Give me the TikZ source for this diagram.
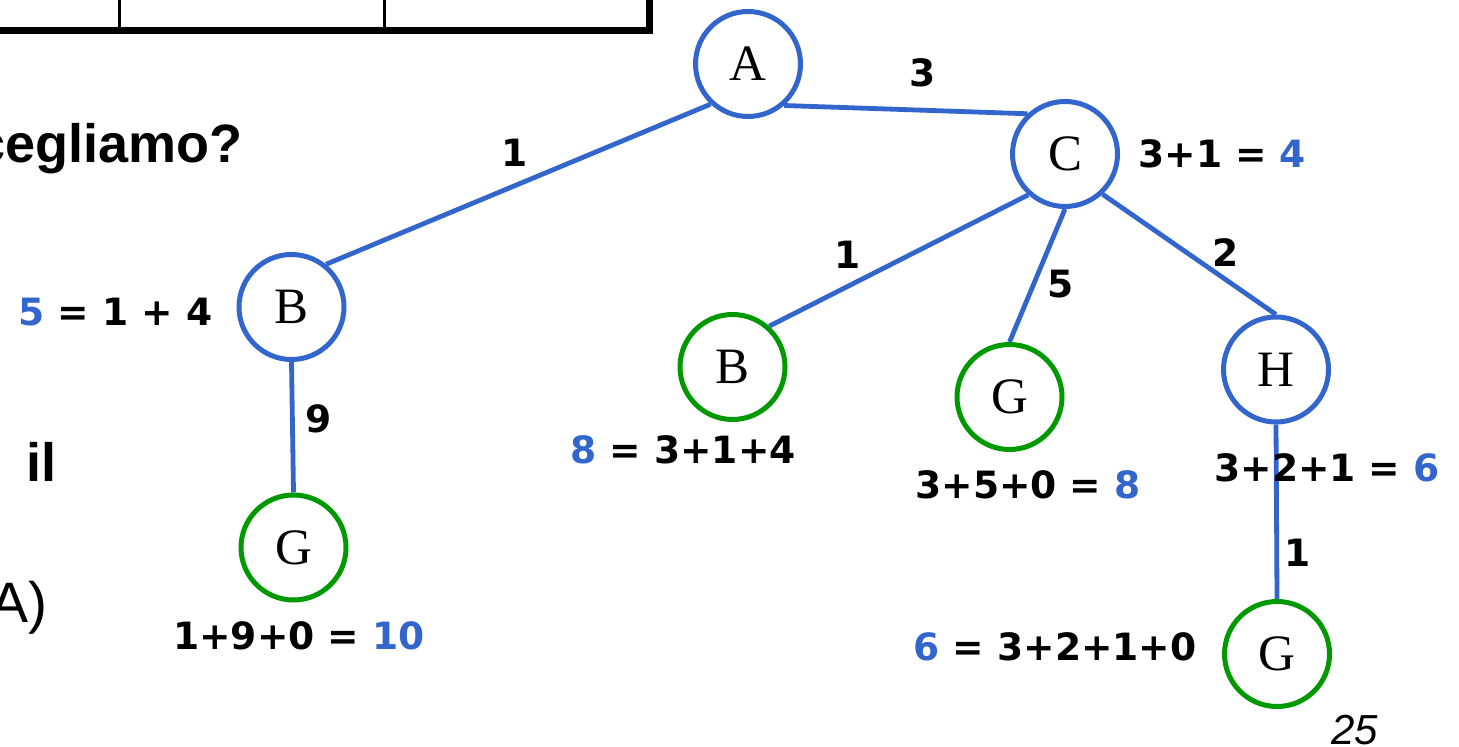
\documentclass[tikz,border=0pt]{standalone}
\usepackage{fontspec}
\setmainfont{Liberation Serif}
\setsansfont{Liberation Sans}
\newfontfamily\costfont{DejaVu Sans}
\usetikzlibrary{positioning}

\definecolor{treeblue}{RGB}{51,102,204}
\definecolor{goalgreen}{RGB}{0,153,0}

\begin{document}
\begin{tikzpicture}[
			x=0.5pt, y=-0.5pt,
			open node/.style={circle, draw=treeblue, line width=2.5pt, minimum size=52.5pt, inner sep=0pt, font=\fontsize{25.5}{25.5}\selectfont},
			goal node/.style={open node, draw=goalgreen},
			tree edge/.style={draw=treeblue, line width=2.4pt},
			edge cost/.style={font=\costfont\bfseries\fontsize{18.8}{20}\selectfont, inner sep=0pt},
			path cost/.style={edge cost},
			slide text/.style={font=\sffamily\bfseries\fontsize{27}{27}\selectfont, inner sep=0pt, anchor=base west}
			]
			
			\useasboundingbox (0,0) rectangle (1459,747);
			\clip (0,0) rectangle (1459,747);
			
			\draw[line width=3.5pt] (0,30.5) -- (649.7,30.5) -- (649.7,-10);
			\draw[line width=1.4pt] (119.5,-10) -- (119.5,30.5) (384.5,-10) -- (384.5,30.5);
			
			\node[slide text] (question) at (-25,162.7) {cegliamo?};
			\node[slide text] (il) at (26,481) {il};
			\node[slide text, font=\sffamily\fontsize{28.5}{28.5}\selectfont] (paren) at (-10,622.7) {A)};
			\node[slide text, font=\sffamily\itshape\fontsize{21}{21}\selectfont] (page) at (1331,744) {25};
			
			\node[open node] (A) at (748,64) {A};
			\node[open node] (C) at (1065,154) {C};
			\node[open node] (B) at (291.5,307) {B};
			\node[goal node] (G1) at (293.5,547.5) {G};
			\node[goal node] (B2) at (732.5,367) {B};
			\node[goal node] (G2) at (1009.5,397) {G};
			\node[open node] (H) at (1276,369.5) {H};
			\node[goal node] (G3) at (1277,654) {G};
			
			\draw[tree edge] (A.-49) -- node[edge cost, pos=.568, yshift=18.7pt] {3} (C.133.5);
			\draw[tree edge] (A.227) -- node[edge cost, pos=.511, yshift=16.5pt] {1} (B.51);
			\draw[tree edge] (C.228) -- node[edge cost, pos=.698, yshift=15.8pt] {1} (B2.48);
			\draw[tree edge] (C.south) -- node[edge cost, pos=.568, xshift=13.7pt] {5} (G2.north);
			\draw[tree edge] (C.-47) -- node[edge cost, pos=.711, yshift=13.5pt] {2} (H.north);
			\draw[tree edge] (B.south) -- node[edge cost, pos=.435, xshift=13pt] {9} (G1.north);
			\draw[tree edge] (H.south) -- node[edge cost, pos=.736, xshift=10.3pt] {1} (G3.north);
			
			\node[path cost, right=9pt of C] (fC) {3+1 = \textcolor{treeblue}{4}};
			\node[path cost, left=11.75pt of B, yshift=-2.5pt] (fB) {\textcolor{treeblue}{5} = 1 + 4};
			\node[path cost, below=9.25pt of G1, xshift=2.75pt] (fG1) {1+9+0 = \textcolor{treeblue}{10}};
			\node[path cost, below=6.5pt of B2, xshift=-24.75pt] (fB2) {\textcolor{treeblue}{8} = 3+1+4};
			\node[path cost, below=9pt of G2, xshift=9.25pt] (fG2) {3+5+0 = \textcolor{treeblue}{8}};
			\node[path cost, below=14.25pt of H, xshift=25.5pt] (fH) {3+2+1 = \textcolor{treeblue}{6}};
			\node[path cost, left=12.5pt of G3, yshift=3.5pt] (fG3) {\textcolor{treeblue}{6} = 3+2+1+0};
		\end{tikzpicture}
\end{document}
